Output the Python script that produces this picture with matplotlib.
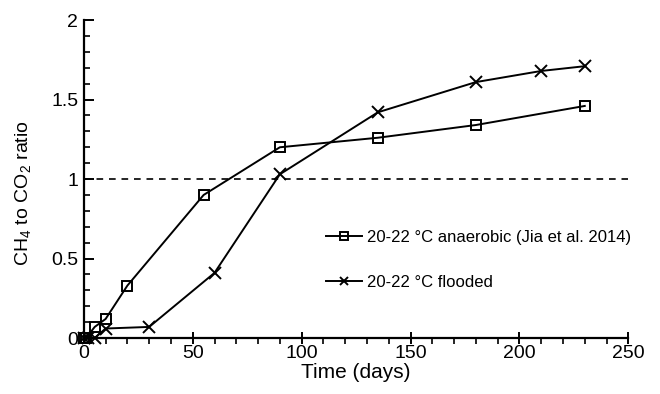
import matplotlib
matplotlib.use("Agg")
import matplotlib.pyplot as plt
from matplotlib.ticker import MultipleLocator

plt.rcParams['font.family'] = ['Liberation Sans', 'DejaVu Sans']
plt.rcParams['mathtext.fontset'] = 'custom'
plt.rcParams['mathtext.rm'] = 'Liberation Sans'

anaerobic_days = [0, 1, 5, 10, 20, 55, 90, 135, 180, 230]
anaerobic_ratio = [0.0, 0.0, 0.07, 0.12, 0.33, 0.90, 1.20, 1.26, 1.34, 1.46]
flooded_days = [0, 2, 5, 10, 30, 60, 90, 135, 180, 210, 230]
flooded_ratio = [0.0, 0.0, 0.0, 0.06, 0.07, 0.41, 1.03, 1.42, 1.61, 1.68, 1.71]
labels = ["20-22 °C anaerobic (Jia et al. 2014)", "20-22 °C flooded"]
yticks = [0, 0.5, 1, 1.5, 2]
yticklabels = ['0', '0.5', '1', '1.5', '2']
threshold = 1.0

fig = plt.figure(figsize=(6.6, 3.94), dpi=100)
ax = fig.add_axes([0.127, 0.142, 0.825, 0.807])

ax.axhline(threshold, color='black', linestyle=(0, (4, 3.5)), linewidth=1.2, zorder=1)
ax.plot(anaerobic_days, anaerobic_ratio, color='black', linewidth=1.4, marker='s',
        markersize=7, markerfacecolor='none', markeredgewidth=1.4, label=labels[0], zorder=3)
ax.plot(flooded_days, flooded_ratio, color='black', linewidth=1.4, marker='x',
        markersize=8, markeredgewidth=1.4, label=labels[1], zorder=3)

ax.set_xlim(0, 250)
ax.set_ylim(0, 2)
ax.xaxis.set_major_locator(MultipleLocator(50))
ax.xaxis.set_minor_locator(MultipleLocator(10))
ax.set_yticks(yticks)
ax.set_yticklabels(yticklabels)
ax.yaxis.set_minor_locator(MultipleLocator(0.1))

for s in ['top', 'right']:
    ax.spines[s].set_visible(False)
for s in ['left', 'bottom']:
    ax.spines[s].set_linewidth(1.6)

ax.tick_params(axis='x', which='major', direction='inout', length=8, width=1.4, labelsize=14, pad=1)
ax.tick_params(axis='x', which='minor', direction='out', length=4, width=1.2)
ax.tick_params(axis='y', which='major', direction='in', length=7, width=1.4, labelsize=14, pad=4)
ax.tick_params(axis='y', which='minor', direction='in', length=4, width=1.2)

ax.set_xlabel('Time (days)', fontsize=15, labelpad=1)
ax.set_ylabel(r'CH$_4$ to CO$_2$ ratio', fontsize=14)
ax.yaxis.set_label_coords(-0.092, 0.455)

leg = ax.legend(loc='center left', bbox_to_anchor=(0.445, 0.247), frameon=False, fontsize=12,
                borderpad=0, borderaxespad=0,
                handlelength=2.15, handletextpad=0.3, labelspacing=1.8, markerscale=0.8)

for line in ax.get_lines():
    line.set_clip_on(False)

fig.savefig('out.png', dpi=100)
